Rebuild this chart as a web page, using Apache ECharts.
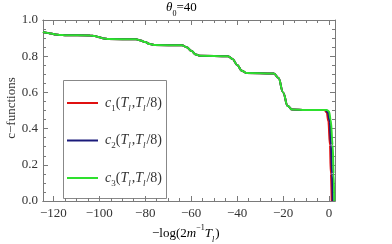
<!DOCTYPE html>
<html><head><meta charset="utf-8">
<script src="https://cdn.jsdelivr.net/npm/echarts@6/dist/echarts.min.js"></script>
<style>html,body{margin:0;padding:0;background:#fff}#c{width:392px;height:244px}</style>
</head><body><div id="c"></div>
<script>
// ---- data ----
const stepX = [-124.5,-123,-121,-119,-117,-115,-104,-102,-100,-98,-96,-84,-82,-80,-78,-76,-64,-62,-60,-58,-56,-44,-42,-40,-38,-36,-24,-22,-20,-18,-16,-10];
const stepY = [0.934,0.930,0.925,0.920,0.917,0.916,0.915,0.911,0.905,0.898,0.895,0.893,0.887,0.878,0.867,0.862,0.860,0.850,0.830,0.810,0.802,0.800,0.785,0.752,0.720,0.707,0.705,0.680,0.600,0.525,0.505,0.503];
const c1TailX = [-2,-1,-0.3,0.4,0.8,1.15];
const c1TailY = [0.503,0.49,0.44,0.31,0.15,0];
const c2TailX = [-1.5,-0.5,0.3,0.85,1.3,1.6];
const c2TailY = [0.503,0.49,0.44,0.31,0.15,0];
const c3TailX = [-1,0,0.7,1.6,2.0,2.3];
const c3TailY = [0.503,0.495,0.45,0.31,0.15,0];
const seriesNames = ['c1','c2','c3'];
const subs = ['1','2','3'];
const colors = ['#e01010','#1a1a7a','#2ee02e'];
const xMajor = [-120,-100,-80,-60,-40,-20,0];
const xMinor = [-120,-115,-110,-105,-100,-95,-90,-85,-80,-75,-70,-65,-60,-55,-50,-45,-40,-35,-30,-25,-20,-15,-10,-5,0];
const xMin = -124.5, xMax = 2.6;

function build(tx, ty){
  const d = [];
  for (let i=0;i<stepX.length;i++) d.push([stepX[i], stepY[i]]);
  for (let i=0;i<tx.length;i++) d.push([tx[i], ty[i]]);
  return d;
}
const tails = [[c1TailX,c1TailY],[c2TailX,c2TailY],[c3TailX,c3TailY]];

const serif = '"Liberation Serif","DejaVu Serif",serif';
const frame = '#7a7a7a';
const txt = '#333';
function mkRich(fs, sfs){
  return {
    i:{fontFamily:serif,fontStyle:'italic',fontSize:fs,color:txt,lineHeight:16,verticalAlign:'middle'},
    n:{fontFamily:serif,fontSize:fs,color:txt,lineHeight:16,verticalAlign:'middle'},
    s:{fontFamily:serif,fontSize:sfs,color:txt,lineHeight:16,verticalAlign:'bottom',padding:[0,0,-2,0]},
    si:{fontFamily:serif,fontStyle:'italic',fontSize:sfs,color:txt,lineHeight:16,verticalAlign:'bottom',padding:[0,1,-2,0]},
    sup:{fontFamily:serif,fontSize:sfs,color:txt,lineHeight:16,verticalAlign:'top',padding:[-2,0,0,0]}
  };
}
const rich = mkRich(13,8);
const richL = mkRich(14,9);

function mkX(pos, values, len, showLabel){
  return {type:'value', min:xMin, max:xMax, position:pos, gridIndex:0,
    axisLine:{show:true,onZero:false,lineStyle:{color:frame,width:1}},
    axisTick:{show:true,inside:true,length:len,customValues:values,lineStyle:{color:frame}},
    axisLabel:{show:showLabel,customValues:xMajor,fontFamily:serif,fontSize:13,color:txt,margin:6,
      formatter:v=> v<0 ? '\u2212'+Math.abs(v) : String(v)},
    splitLine:{show:false}};
}
function mkY(pos, showLabel){
  return {type:'value', min:0, max:1, interval:0.2, position:pos,
    axisLine:{show:true,onZero:false,lineStyle:{color:frame,width:1}},
    axisTick:{show:true,inside:true,length:5,lineStyle:{color:frame}},
    minorTick:{show:true,splitNumber:4,length:3,lineStyle:{color:frame}},
    axisLabel:{show:showLabel,fontFamily:serif,fontSize:13,color:txt,margin:5,formatter:v=>v.toFixed(1)},
    splitLine:{show:false}};
}

const chart = echarts.init(document.getElementById('c'), null, {renderer:'canvas'});
chart.setOption({
  animation:false,
  grid:{left:43,right:57,top:20,bottom:43},
  xAxis:[mkX('bottom',xMajor,5,true), mkX('bottom',xMinor,3,false), mkX('top',xMajor,5,false), mkX('top',xMinor,3,false)],
  yAxis:[mkY('left',true), mkY('right',false)],
  legend:{
    orient:'vertical', left:67, top:96, padding:0, itemGap:20.5, itemWidth:31, itemHeight:2,
    icon:'rect',
    data:seriesNames,
    formatter:function(name){
      const k = subs[seriesNames.indexOf(name)];
      return '{i|c}{s|'+k+'}{n|(}{i|T}{si|l}{n|,}{i|T}{si|l}{n|/8)}';
    },
    textStyle:{rich:richL, padding:[0,0,0,2]}
  },
  graphic:[
    {type:'rect', shape:{x:63.5,y:80.5,width:103,height:118}, style:{fill:'#fff',stroke:'#888',lineWidth:1}, z:-1, zlevel:0},
    {type:'text', left:166, top:1, style:{text:'{i|θ}{s|0}{n|=40}', rich:rich}},
    {type:'text', left:152, top:224, style:{text:'{n|\u2212log(2}{i|m}{sup|\u22121}{i|T}{si|l}{n|)}', rich:rich}},
    {type:'text', x:12, y:108, rotation:Math.PI/2, style:{text:'c\u2212functions', fontFamily:serif, fontSize:13, fill:txt, align:'center', verticalAlign:'middle'}}
  ],
  series: seriesNames.map((n,i)=>({
    name:n, type:'line', xAxisIndex:0, yAxisIndex:0, data:build(tails[i][0],tails[i][1]),
    showSymbol:false, symbol:'none', smooth:0.4, smoothMonotone:'x', clip:true,
    lineStyle:{color:colors[i],width:2}, itemStyle:{color:colors[i]}, z:2+i
  }))
});
</script></body></html>
